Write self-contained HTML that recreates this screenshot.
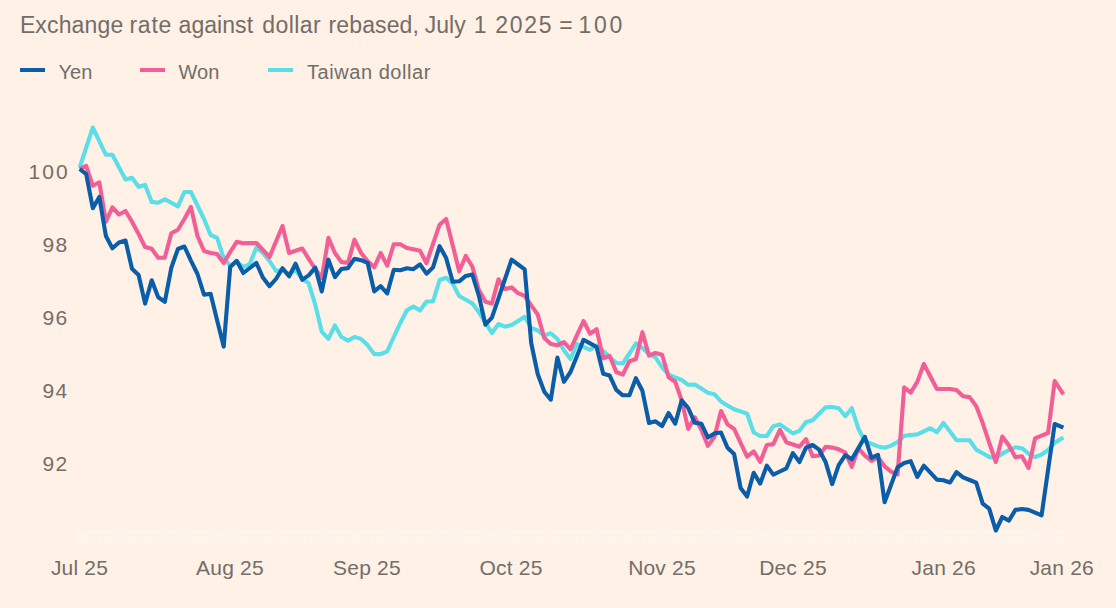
<!DOCTYPE html>
<html>
<head>
<meta charset="utf-8">
<title>Exchange rate against dollar rebased</title>
<style>
html,body{margin:0;padding:0;}
body{width:1116px;height:608px;background:#FFF1E5;overflow:hidden;position:relative;font-family:"Liberation Sans",sans-serif;color:#736D68;}
.t{position:absolute;white-space:nowrap;line-height:1;}
#title{left:0;top:14.2px;font-size:23px;width:700px;height:24px;}
#title span{position:absolute;top:0;}
.lg{top:61.5px;font-size:20px;}
.key{position:absolute;top:68.3px;height:4.1px;width:24.4px;}
.yl{font-size:21px;letter-spacing:1.5px;width:68.8px;text-align:right;left:0;}
.xl{font-size:21px;letter-spacing:0.2px;top:557.2px;transform:translateX(-50%);}
svg{position:absolute;left:0;top:0;}
</style>
</head>
<body>
<div id="title" class="t"><span style="left:19.9px;letter-spacing:0.14px">Exchange</span><span style="left:129.4px;letter-spacing:0.79px">rate</span><span style="left:178.6px;letter-spacing:0.05px">against</span><span style="left:262.3px;letter-spacing:0.44px">dollar</span><span style="left:328.5px;letter-spacing:0.13px">rebased,</span><span style="left:424.7px;letter-spacing:0.03px">July</span><span style="left:473.8px;letter-spacing:0px">1</span><span style="left:495.3px;letter-spacing:1.71px">2025</span><span style="left:559.3px;letter-spacing:0px">=</span><span style="left:578.5px;letter-spacing:2.76px">100</span></div>

<div class="key" style="left:20.2px;background:#0A5DA8"></div>
<div class="t lg" style="left:58.5px">Yen</div>
<div class="key" style="left:140.4px;background:#F25E96"></div>
<div class="t lg" style="left:178.5px">Won</div>
<div class="key" style="left:268.2px;background:#5ADEE8"></div>
<div class="t lg" style="left:307px;letter-spacing:0.55px">Taiwan dollar</div>

<div class="t yl" style="top:160.5px;letter-spacing:2.1px;width:69.8px">100</div>
<div class="t yl" style="top:233.5px">98</div>
<div class="t yl" style="top:306.5px">96</div>
<div class="t yl" style="top:379.5px">94</div>
<div class="t yl" style="top:452.5px">92</div>

<div class="t xl" style="left:79.5px">Jul 25</div>
<div class="t xl" style="left:230px">Aug 25</div>
<div class="t xl" style="left:367px">Sep 25</div>
<div class="t xl" style="left:511px">Oct 25</div>
<div class="t xl" style="left:662px">Nov 25</div>
<div class="t xl" style="left:793px">Dec 25</div>
<div class="t xl" style="left:943.7px">Jan 26</div>
<div class="t xl" style="left:1061.8px">Jan 26</div>

<svg width="1116" height="608" viewBox="0 0 1116 608">
  <defs>
    <pattern id="tk" x="73" y="0" width="3.4" height="20" patternUnits="userSpaceOnUse">
      <rect x="0" y="0" width="1.7" height="20" fill="#ffffff" fill-opacity="0.26"/>
    </pattern>
  </defs>
  <rect x="75" y="529.5" width="989" height="14.5" fill="#ffffff" fill-opacity="0.10"/>
  <rect x="75" y="529.5" width="989" height="4" fill="#ffffff" fill-opacity="0.10"/>
  <rect x="75" y="530" width="989" height="14" fill="url(#tk)"/>
  <g fill="none" stroke-width="4.1" stroke-linejoin="round" stroke-linecap="butt">
    <path stroke="#5ADEE8" d="M79.7,167.5 L86.2,147.5 L92.8,127.5 L99.3,141.2 L105.9,154.8 L112.4,154.8 L119.0,167.2 L125.5,179.5 L132.0,177.7 L138.6,186.7 L145.1,184.9 L151.7,201.9 L158.2,202.8 L164.8,199.2 L171.3,202.8 L177.9,206.4 L184.4,192.0 L190.9,192.0 L197.5,205.5 L204.0,219.0 L210.6,235.0 L217.1,237.8 L223.7,258.0 L230.2,266.0 L236.7,262.0 L243.3,267.0 L249.8,264.0 L256.4,247.4 L262.9,253.0 L269.5,261.0 L276.0,271.0 L282.5,270.0 L289.1,274.0 L295.6,270.0 L302.2,279.0 L308.7,283.3 L315.3,304.8 L321.8,331.7 L328.4,338.9 L334.9,325.4 L341.4,337.0 L348.0,340.6 L354.5,337.0 L361.1,338.9 L367.6,345.1 L374.2,354.1 L380.7,354.1 L387.2,351.4 L393.8,337.0 L400.3,323.0 L406.9,310.2 L413.4,306.5 L420.0,310.5 L426.5,301.5 L433.0,301.5 L439.6,280.0 L446.1,277.7 L452.7,283.6 L459.2,296.0 L465.8,299.7 L472.3,303.4 L478.9,312.3 L485.4,322.6 L491.9,333.0 L498.5,324.0 L505.0,326.7 L511.6,324.9 L518.1,320.9 L524.7,316.8 L531.2,328.0 L537.7,330.5 L544.3,335.6 L550.8,333.2 L557.4,339.0 L563.9,350.2 L570.5,359.0 L577.0,344.0 L583.5,346.9 L590.1,349.8 L596.6,345.5 L603.2,351.0 L609.7,357.0 L616.3,363.0 L622.8,363.5 L629.4,353.5 L635.9,343.5 L642.4,348.0 L649.0,354.0 L655.5,357.3 L662.1,367.5 L668.6,374.7 L675.2,377.4 L681.7,380.0 L688.2,384.8 L694.8,384.5 L701.3,388.6 L707.9,392.8 L714.4,394.2 L721.0,401.5 L727.5,405.4 L734.1,409.2 L740.6,411.4 L747.1,413.7 L753.7,432.5 L760.2,436.0 L766.8,436.0 L773.3,426.2 L779.9,424.4 L786.4,428.9 L792.9,433.4 L799.5,430.9 L806.0,422.0 L812.6,420.3 L819.1,413.8 L825.7,407.3 L832.2,407.0 L838.7,408.2 L845.3,416.2 L851.8,408.2 L858.4,428.7 L864.9,441.2 L871.5,443.9 L878.0,446.4 L884.6,447.8 L891.1,445.6 L897.6,442.0 L904.2,435.7 L910.7,435.0 L917.3,434.4 L923.8,431.3 L930.4,428.2 L936.9,432.2 L943.4,423.0 L950.0,431.6 L956.5,440.2 L963.1,440.2 L969.6,440.2 L976.2,449.6 L982.7,453.2 L989.2,456.9 L995.8,458.0 L1002.3,453.6 L1008.9,450.0 L1015.4,447.3 L1022.0,448.2 L1028.5,453.6 L1035.1,457.2 L1041.6,454.5 L1048.1,450.0 L1054.7,442.8 L1063.4,437.4"/>
    <path stroke="#F25E96" d="M79.7,169.0 L86.2,165.8 L92.8,185.8 L99.3,182.3 L105.9,221.7 L112.4,207.3 L119.0,214.5 L125.5,211.0 L132.0,221.7 L138.6,234.0 L145.1,247.0 L151.7,248.8 L158.2,257.8 L164.8,257.8 L171.3,233.3 L177.9,229.7 L184.4,219.0 L190.9,207.0 L197.5,236.0 L204.0,251.0 L210.6,253.0 L217.1,254.0 L223.7,263.0 L230.2,252.0 L236.7,241.8 L243.3,243.2 L249.8,243.1 L256.4,243.0 L262.9,250.0 L269.5,257.0 L276.0,241.5 L282.5,226.0 L289.1,253.0 L295.6,250.8 L302.2,248.5 L308.7,258.8 L315.3,269.0 L321.8,278.0 L328.4,237.8 L334.9,253.0 L341.4,262.0 L348.0,262.9 L354.5,239.6 L361.1,253.0 L367.6,261.0 L374.2,267.3 L380.7,253.0 L387.2,265.6 L393.8,244.2 L400.3,244.2 L406.9,248.0 L413.4,249.3 L420.0,250.7 L426.5,263.2 L433.0,243.9 L439.6,224.7 L446.1,219.0 L452.7,245.2 L459.2,271.3 L465.8,256.0 L472.3,266.5 L478.9,290.0 L485.4,301.7 L491.9,303.5 L498.5,279.3 L505.0,289.1 L511.6,287.4 L518.1,293.2 L524.7,295.9 L531.2,305.4 L537.7,314.5 L544.3,338.1 L550.8,344.0 L557.4,345.3 L563.9,342.2 L570.5,349.3 L577.0,335.1 L583.5,321.0 L590.1,333.7 L596.6,329.2 L603.2,358.3 L609.7,356.0 L616.3,372.0 L622.8,374.7 L629.4,361.2 L635.9,359.0 L642.4,332.2 L649.0,355.6 L655.5,353.0 L662.1,354.8 L668.6,377.3 L675.2,381.8 L681.7,400.4 L688.2,428.9 L694.8,417.3 L701.3,429.8 L707.9,445.9 L714.4,437.0 L721.0,411.0 L727.5,424.4 L734.1,428.9 L740.6,442.8 L747.1,456.7 L753.7,451.3 L760.2,462.0 L766.8,445.0 L773.3,444.1 L779.9,429.8 L786.4,442.3 L792.9,444.5 L799.5,446.7 L806.0,439.1 L812.6,456.2 L819.1,455.5 L825.7,446.7 L832.2,447.6 L838.7,449.3 L845.3,452.5 L851.8,466.8 L858.4,448.4 L864.9,455.6 L871.5,460.9 L878.0,457.3 L884.6,466.3 L891.1,471.7 L897.6,474.4 L904.2,387.3 L910.7,392.6 L917.3,381.9 L923.8,364.0 L930.4,376.5 L936.9,389.0 L943.4,389.0 L950.0,389.0 L956.5,390.0 L963.1,396.2 L969.6,397.1 L976.2,406.1 L982.7,423.1 L989.2,442.6 L995.8,462.0 L1002.3,436.5 L1008.9,445.5 L1015.4,457.2 L1022.0,456.3 L1028.5,468.0 L1035.1,438.3 L1041.6,435.6 L1048.1,433.0 L1054.7,381.0 L1063.4,394.4"/>
    <path stroke="#0A5DA8" d="M79.7,169.0 L86.2,174.2 L92.8,208.2 L99.3,197.0 L105.9,236.0 L112.4,248.3 L119.0,242.5 L125.5,240.5 L132.0,268.7 L138.6,275.0 L145.1,303.6 L151.7,280.3 L158.2,297.3 L164.8,301.8 L171.3,267.8 L177.9,249.0 L184.4,246.5 L190.9,260.6 L197.5,274.0 L204.0,294.7 L210.6,293.8 L217.1,320.2 L223.7,346.6 L230.2,267.0 L236.7,260.8 L243.3,273.0 L249.8,268.0 L256.4,263.0 L262.9,277.6 L269.5,286.2 L276.0,279.0 L282.5,268.2 L289.1,276.3 L295.6,263.7 L302.2,279.8 L308.7,275.4 L315.3,267.6 L321.8,291.4 L328.4,259.7 L334.9,277.1 L341.4,269.0 L348.0,268.1 L354.5,258.7 L361.1,260.2 L367.6,262.8 L374.2,291.4 L380.7,286.1 L387.2,293.5 L393.8,269.8 L400.3,270.2 L406.9,268.3 L413.4,269.2 L420.0,264.3 L426.5,273.7 L433.0,267.4 L439.6,246.2 L446.1,257.9 L452.7,281.8 L459.2,281.3 L465.8,275.9 L472.3,274.5 L478.9,295.8 L485.4,324.7 L491.9,317.7 L498.5,298.3 L505.0,279.0 L511.6,259.6 L518.1,264.5 L524.7,269.4 L531.2,343.0 L537.7,374.0 L544.3,391.7 L550.8,399.7 L557.4,357.6 L563.9,381.8 L570.5,372.0 L577.0,355.9 L583.5,339.8 L590.1,343.4 L596.6,347.0 L603.2,373.8 L609.7,375.6 L616.3,389.9 L622.8,395.3 L629.4,395.3 L635.9,378.2 L642.4,390.8 L649.0,423.0 L655.5,421.3 L662.1,426.0 L668.6,413.0 L675.2,423.7 L681.7,400.4 L688.2,408.0 L694.8,422.8 L701.3,423.7 L707.9,437.4 L714.4,433.4 L721.0,432.5 L727.5,447.7 L734.1,454.0 L740.6,488.0 L747.1,496.5 L753.7,472.8 L760.2,483.6 L766.8,465.6 L773.3,474.6 L779.9,471.5 L786.4,468.3 L792.9,453.1 L799.5,462.0 L806.0,447.7 L812.6,445.0 L819.1,449.7 L825.7,462.3 L832.2,484.1 L838.7,465.2 L845.3,455.1 L851.8,459.3 L858.4,448.1 L864.9,436.8 L871.5,457.9 L878.0,454.8 L884.6,502.3 L891.1,484.8 L897.6,467.2 L904.2,463.0 L910.7,461.2 L917.3,476.9 L923.8,465.7 L930.4,472.6 L936.9,479.6 L943.4,480.3 L950.0,482.5 L956.5,472.1 L963.1,477.3 L969.6,480.0 L976.2,482.7 L982.7,503.7 L989.2,508.7 L995.8,530.5 L1002.3,517.0 L1008.9,520.6 L1015.4,509.9 L1022.0,509.0 L1028.5,509.9 L1035.1,512.6 L1041.6,515.3 L1048.1,469.6 L1054.7,424.0 L1063.4,427.6"/>
  </g>
</svg>
</body>
</html>
